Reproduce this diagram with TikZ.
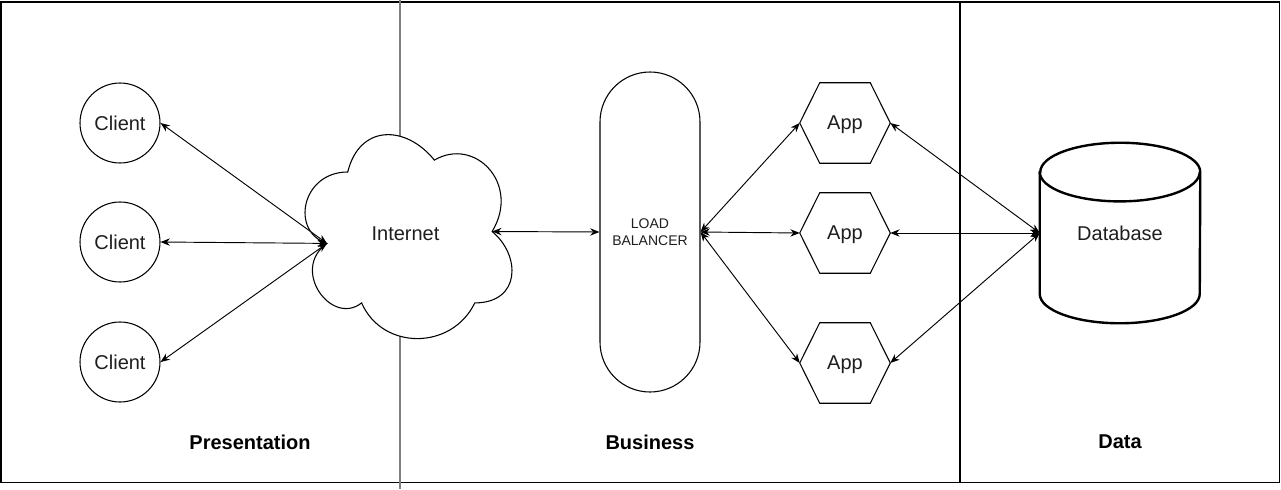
\documentclass[tikz,border=0pt]{standalone}
\usepackage{fontspec}
\setmainfont{Liberation Sans}
\usepackage{tikz}
\usetikzlibrary{arrows.meta,positioning,shapes.geometric}
\definecolor{lanegray}{RGB}{128,128,128}
\definecolor{inkgray}{RGB}{30,30,30}

\begin{document}
\begin{tikzpicture}[
    x=0.75pt, y=-0.75pt,
    >={Stealth[length=7pt,width=5.5pt]},
    every node/.style={font=\fontsize{15}{18}\selectfont, text=inkgray},
    lane/.style={draw=black, line width=1pt},
    client/.style={circle, draw, line width=0.8pt, minimum size=60pt, inner sep=0pt},
    plain/.style={rectangle, inner sep=0pt},
    appbox/.style={plain, minimum width=67.5pt, minimum height=60pt, text depth=0pt},
    shapeline/.style={line width=0.8pt, line join=miter},
    lb/.style={rectangle, draw, line width=0.8pt, rounded corners=37.5pt, minimum width=75pt, minimum height=240pt, align=center, font=\fontsize{10.5}{12.5}\selectfont},
    dbline/.style={line width=1.8pt},
    tier/.style={font=\bfseries\fontsize{15}{18}\selectfont, text=black},
    arr/.style={<->, line width=0.7pt}
  ]
    \useasboundingbox (0,0) rectangle (1281,489);
    % tiers
    \draw[lane] (1,2) rectangle (1279.5,482.5);
    \draw[lane] (960,2) -- (960,482.5);
    \draw[draw=lanegray, line width=1pt] (400,0) -- (400,489);

    \node[client] (c1) at (120,123) {Client};
    \node[client] (c2) at (120,242) {Client};
    \node[client] (c3) at (120,362) {Client};

    % cloud
    \begin{scope}[shift={(290,112.5)}, x=173.25pt, y=-178.5pt]
      \draw[shapeline, fill=white] (0.25,0.25) .. controls (0.05,0.25) and (0,0.5) .. (0.16,0.55)
        .. controls (0,0.66) and (0.18,0.9) .. (0.31,0.8)
        .. controls (0.4,1) and (0.7,1) .. (0.8,0.8)
        .. controls (1,0.8) and (1,0.6) .. (0.875,0.5)
        .. controls (1,0.3) and (0.8,0.1) .. (0.625,0.2)
        .. controls (0.5,0.05) and (0.3,0.05) .. (0.25,0.25) -- cycle;
      \coordinate (inetL) at (0.16,0.55);
      \coordinate (inetR) at (0.875,0.5);
    \end{scope}
    \node[plain] (inet) at (405.5,233.5) {Internet};

    \node[lb] (lbal) at (650,232) {LOAD\\BALANCER};

    \node[appbox] (a1) at (845,123) {App};
    \node[appbox] (a2) at (845,233) {App};
    \node[appbox] (a3) at (845,363) {App};
    \foreach \n in {a1,a2,a3}
      \draw[shapeline] (\n.west) -- ([xshift=15pt]\n.north west) -- ([xshift=-15pt]\n.north east)
        -- (\n.east) -- ([xshift=-15pt]\n.south east) -- ([xshift=15pt]\n.south west) -- cycle;

    % database
    \node[plain, minimum width=120pt, minimum height=135pt] (data) at (1120,233) {Database};
    \draw[dbline] ([yshift=-22pt]data.north west) -- ([yshift=22pt]data.south west)
      arc[start angle=180, end angle=360, x radius=60pt, y radius=22pt]
      -- ([yshift=-22pt]data.north east)
      arc[start angle=0, end angle=180, x radius=60pt, y radius=22pt] -- cycle;
    \draw[dbline] ([yshift=-22pt]data.north west)
      arc[start angle=180, end angle=360, x radius=60pt, y radius=22pt];

    \node[tier] (tp) at (250,442) {Presentation};
    \node[tier] (tb) at (650,442) {Business};
    \node[tier] (td) at (1120,442) {Data};

    \draw[arr] (c1.east) -- (inetL);
    \draw[arr] (c2.east) -- (inetL);
    \draw[arr] (c3.east) -- (inetL);
    \draw[arr] (inetR) -- (lbal.west);
    \draw[arr] (lbal.east) -- (a1.west);
    \draw[arr] (lbal.east) -- (a2.west);
    \draw[arr] (lbal.east) -- (a3.west);
    \draw[arr] (a1.east) -- (data.west);
    \draw[arr] (a2.east) -- (data.west);
    \draw[arr] (a3.east) -- (data.west);
  \end{tikzpicture}
\end{document}
